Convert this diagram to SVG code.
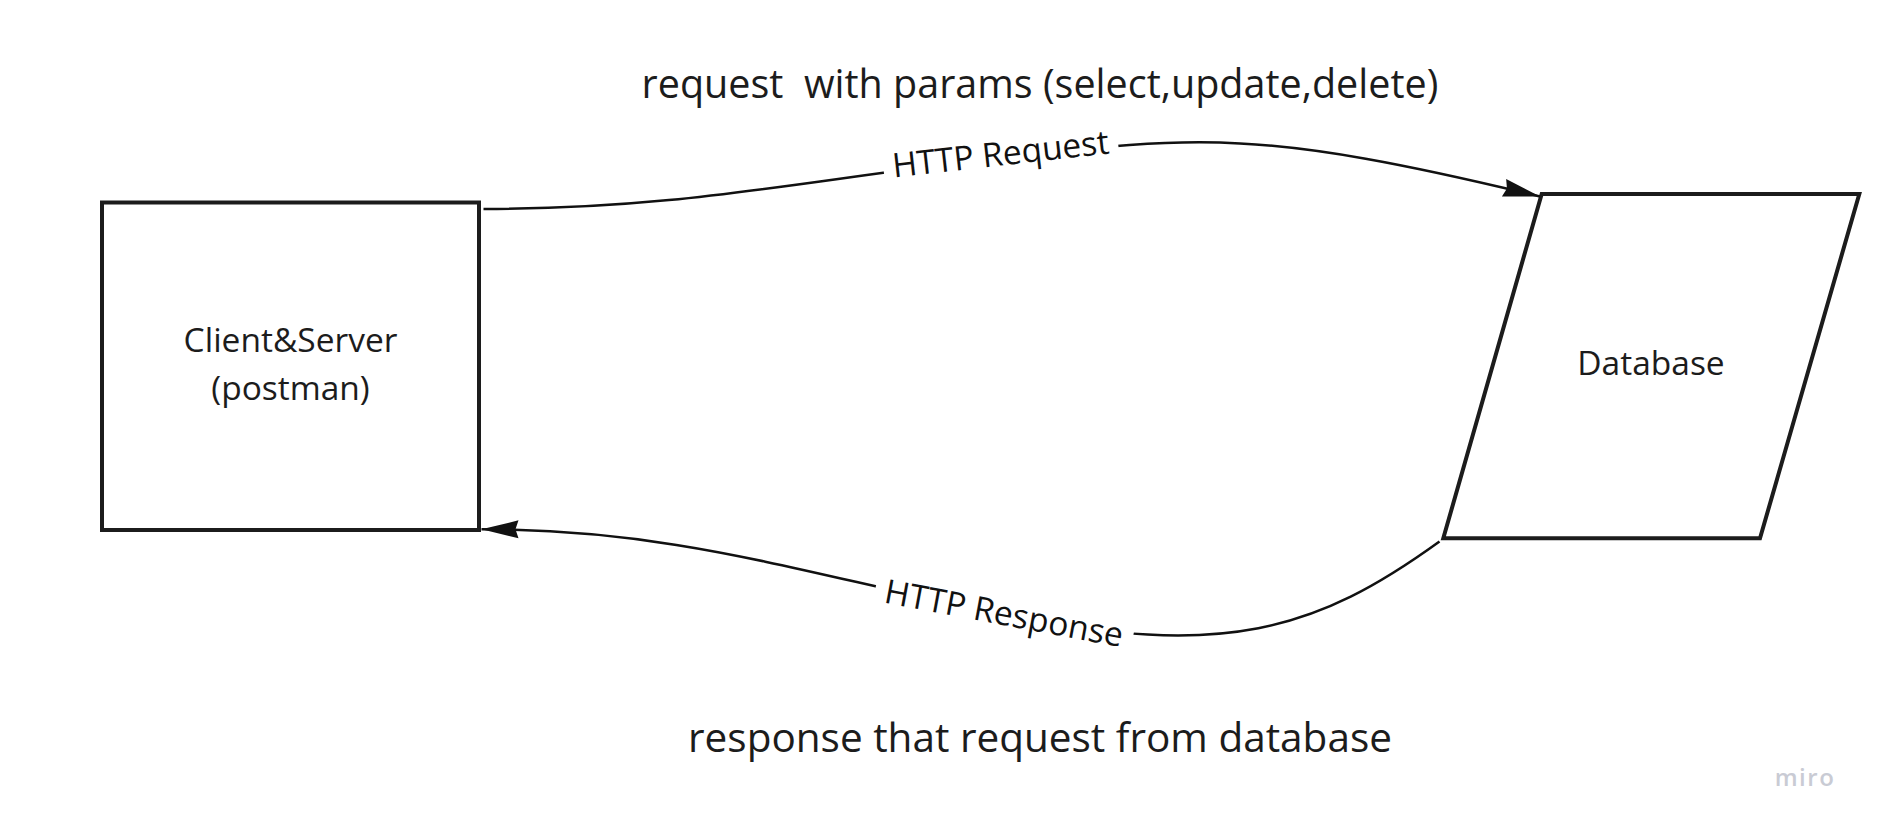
<svg xmlns="http://www.w3.org/2000/svg" width="1879" height="831" viewBox="0 0 1879 831">
<style>
.shape{fill:#ffffff;stroke:#1c1c1c;stroke-width:4;stroke-linejoin:miter}
.conn{fill:none;stroke:#111111;stroke-width:2.5}
.t{font-family:"Open Sans","Noto Sans","Liberation Sans",sans-serif;fill:#1c1c1c}
.node{font-size:33.5px;text-anchor:middle}
.note{font-size:40.5px;text-anchor:middle;white-space:pre}
.lbl{font-size:33.5px;text-anchor:middle;fill:#111111}
.mask{fill:#ffffff}
</style>
<defs>
<marker id="arrow" markerUnits="userSpaceOnUse" markerWidth="40" markerHeight="20" refX="37" refY="9" orient="auto" overflow="visible">
<path d="M0,0 L37,9 L0,18 L3,9 Z" fill="#111111"/>
</marker>
</defs>
<rect width="1879" height="831" fill="#ffffff"/>
<g id="node-client">
<rect class="shape" x="102" y="202.5" width="377" height="327.5"/>
<text class="t node" x="290.5" y="352">Client&amp;Server</text>
<text class="t node" x="290.5" y="400">(postman)</text>
</g>
<g id="node-database">
<polygon class="shape" points="1541.7,194 1859.3,194 1760,538.3 1443.3,538.3"/>
<text class="t node" x="1651" y="375">Database</text>
</g>
<g id="connectors">
<path id="edge-request" class="conn" d="M483.5,209 C683,209 800,180.6 1000,158 C1200,135.4 1260,128.8 1540,196.5" marker-end="url(#arrow)"/>
<path id="edge-response" class="conn" d="M1439.5,541.5 C1317,630 1224,660 1004,614 C804,574.5 680,529.5 481.5,529.3" marker-end="url(#arrow)"/>
<g id="label-request" transform="translate(1001,158) rotate(-6.4)">
<rect class="mask" x="-118" y="-22" width="236" height="44"/>
<text class="t lbl" x="0" y="7.5">HTTP Request</text>
</g>
<g id="label-response" transform="translate(1004,614) rotate(10.6)">
<rect class="mask" x="-131" y="-22" width="262" height="44"/>
<text class="t lbl" x="0" y="11">HTTP Response</text>
</g>
</g>
<g id="notes">
<text class="t note" x="1040" y="98" font-size="39.5" style="font-size:39.5px" xml:space="preserve">request  with params (select,update,delete)</text>
<text class="t note" x="1040" y="752">response that request from database</text>
</g>
<text x="1805" y="786" font-family="'Open Sans','Noto Sans',sans-serif" font-size="24" font-weight="600" letter-spacing="1.5" text-anchor="middle" fill="#c9cbd4">miro</text>
</svg>
